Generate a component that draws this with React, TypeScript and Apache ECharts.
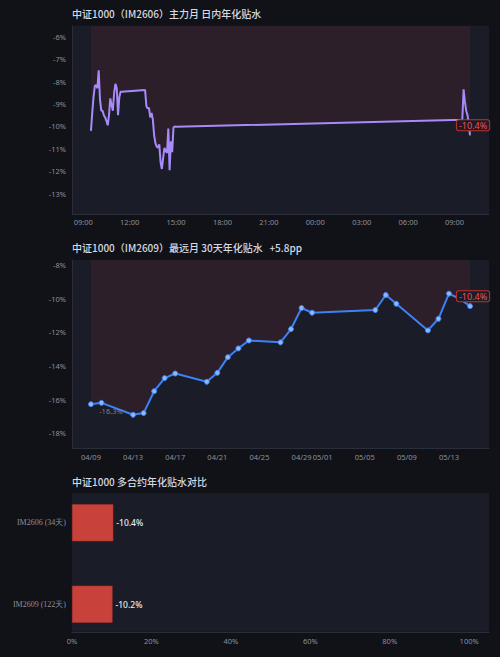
import { useEffect, useRef } from 'react';
import * as echarts from 'echarts';

// ---------- data ----------
const title1 = '中证1000（IM2606）主力月 日内年化贴水';
const title2 = '中证1000（IM2609）最远月 30天年化贴水   +5.8pp';
const title3 = '中证1000 多合约年化贴水对比';

// intraday (day 1 = previous session, day 2 = current session)
const day1Times = [
  '09:30', '09:35', '09:40', '09:45', '09:50', '09:55', '10:00', '10:05', '10:10', '10:15',
  '10:20', '10:25', '10:30', '10:35', '10:40', '10:45', '10:50', '10:55', '11:00', '11:05',
  '11:10', '11:15', '11:20', '11:25', '11:30',
  '13:00', '13:05', '13:10', '13:15', '13:20', '13:25', '13:30', '13:35', '13:40', '13:45',
  '13:50', '13:55', '14:00', '14:05', '14:10', '14:15', '14:20', '14:25', '14:30', '14:35',
  '14:40', '14:45', '14:50', '14:55', '15:00',
];
const day1Values = [
  -10.2, -9.4, -8.7, -8.2, -8.15, -8.3, -7.5, -8.8, -9.3, -9.3,
  -9.5, -9.6, -9.75, -9.95, -9.5, -8.75, -9.05, -9.3, -8.5, -8.1,
  -8.3, -9.5, -8.7, -8.45, -8.45,
  -8.38, -9.1, -9.2, -9.17, -9.6, -9.4, -9.7, -10.4, -10.75, -10.9,
  -10.95, -10.8, -11.6, -11.9, -11.4, -10.96, -11.1, -11.18, -10.1, -11.95,
  -10.66, -11.15, -10.05, -10.0, -10.02,
];
const day2Times = ['09:30', '09:35', '09:40', '09:45', '09:50', '09:55', '10:00'];
const day2Values = [-9.7, -8.35, -8.9, -9.3, -9.5, -9.9, -10.4];

// daily 30-day annualised discount
const dailyDates = [
  '2026-04-09', '2026-04-10', '2026-04-13', '2026-04-14', '2026-04-15', '2026-04-16',
  '2026-04-17', '2026-04-20', '2026-04-21', '2026-04-22', '2026-04-23', '2026-04-24',
  '2026-04-27', '2026-04-28', '2026-04-29', '2026-04-30', '2026-05-06', '2026-05-07',
  '2026-05-08', '2026-05-11', '2026-05-12', '2026-05-13', '2026-05-14', '2026-05-15',
];
const dailyValues = [
  -16.26, -16.18, -16.89, -16.79, -15.49, -14.71,
  -14.44, -14.93, -14.4, -13.47, -12.95, -12.48,
  -12.59, -11.8, -10.55, -10.83, -10.67, -9.78,
  -10.3, -11.88, -11.19, -9.7, -10.0, -10.44,
];

// contracts comparison
const contracts = ['IM2606 (34天)', 'IM2609 (122天)'];
const contractValues = [-10.4, -10.2];

// ---------- styles ----------
const PAGE_BG = '#111218';
const GRID_BG = '#1a1c27';
const AXIS_LINE = '#2a2d3a';
const LABEL = '#8b909c';
const TITLE = '#d6d9e0';
const RED_FILL = 'rgba(239,68,68,0.13)';
const FONT = "'Noto Sans', 'Noto Sans CJK SC', sans-serif";
const TITLE_FONT = "'Noto Sans CJK SC', 'Noto Sans', sans-serif";

const toHours = (t: string, day: number) => {
  const [h, m] = t.split(':').map(Number);
  return h + m / 60 + day * 24;
};
const pad = (n: number) => (n < 10 ? '0' + n : '' + n);

const intraday: [number, number][] = [
  ...day1Times.map((t, i) => [toHours(t, 0), day1Values[i]] as [number, number]),
  ...day2Times.map((t, i) => [toHours(t, 1), day2Values[i]] as [number, number]),
];
const iFirst = intraday[0][0];
const iLast = intraday[intraday.length - 1];
const iSpan = iLast[0] - iFirst;

const daily: [number, number][] = dailyDates.map((d, i) => {
  const [y, mo, da] = d.split('-').map(Number);
  return [new Date(y, mo - 1, da).getTime(), dailyValues[i]];
});
const dFirst = daily[0];
const dLast = daily[daily.length - 1];
const dSpan = dLast[0] - dFirst[0];

const redBoxLabel = {
  show: true,
  position: 'top',
  distance: 5,
  offset: [3, 0],
  color: '#f05252',
  fontSize: 9,
  fontFamily: FONT,
  backgroundColor: '#1d1b25',
  borderColor: '#c0302e',
  borderWidth: 1,
  borderRadius: 2,
  padding: [1, 2, 0, 2],
  formatter: (p: any) => p.value.toFixed(1) + '%',
};

const yPct = (v: number) => Math.round(v) + '%';

const titleStyle = { color: TITLE, fontSize: 10, fontWeight: 500, fontFamily: TITLE_FONT };

export default function App() {
  const ref = useRef<HTMLDivElement>(null);
  useEffect(() => {
    document.body.style.margin = '0';
    document.body.style.background = PAGE_BG;
    const chart = echarts.init(ref.current!, null, { renderer: 'svg' });
    const option: any = {
      animation: false,
      backgroundColor: PAGE_BG,
      textStyle: { fontFamily: FONT },
      title: [
        { text: title1, left: 72, top: 8, padding: 0, textStyle: titleStyle },
        { text: title2, left: 72, top: 242, padding: 0, textStyle: titleStyle },
        { text: title3, left: 72, top: 476, padding: 0, textStyle: titleStyle },
      ],
      graphic: [
        {
          type: 'rect',
          z: -10,
          shape: { x: 72, y: 493.3, width: 417, height: 138.4 },
          style: { fill: GRID_BG },
        },
      ],
      grid: [
        { left: 72, right: 11, top: 25.7, height: 188.6, show: true, backgroundColor: GRID_BG, borderWidth: 0 },
        { left: 72, right: 11, top: 260, height: 188.3, show: true, backgroundColor: GRID_BG, borderWidth: 0 },
        { left: 72, right: 11, top: 482, height: 163 },
      ],
      xAxis: [
        {
          type: 'value',
          gridIndex: 0,
          min: iFirst - iSpan * 0.05,
          max: iLast[0] + iSpan * 0.05,
          splitNumber: 9,
          axisLine: { show: true, lineStyle: { color: AXIS_LINE } },
          axisTick: { show: false },
          splitLine: { show: false },
          axisLabel: {
            color: LABEL,
            fontSize: 7.5,
            margin: 4,
            showMinLabel: false,
            showMaxLabel: false,
            formatter: (v: number) => pad(((Math.round(v) % 24) + 24) % 24) + ':00',
          },
        },
        {
          type: 'time',
          gridIndex: 1,
          min: dFirst[0] - dSpan * 0.05,
          max: dLast[0] + dSpan * 0.05,
          splitNumber: 10,
          axisLine: { show: true, lineStyle: { color: AXIS_LINE } },
          axisTick: { show: false },
          splitLine: { show: false },
          axisLabel: {
            color: LABEL,
            fontSize: 7.5,
            margin: 5,
            showMinLabel: false,
            showMaxLabel: false,
            formatter: (v: number) => {
              const d = new Date(v);
              return pad(d.getMonth() + 1) + '/' + pad(d.getDate());
            },
          },
        },
        {
          type: 'value',
          gridIndex: 2,
          min: 0,
          max: 105,
          interval: 20,
          offset: -13,
          axisLine: { show: true, lineStyle: { color: AXIS_LINE } },
          axisTick: { show: false },
          splitLine: { show: false },
          axisLabel: {
            color: LABEL,
            fontSize: 7.5,
            margin: 5,
            showMaxLabel: false,
            formatter: (v: number) => v + '%',
          },
        },
      ],
      yAxis: [
        {
          type: 'value',
          gridIndex: 0,
          min: -13.92,
          max: -5.51,
          splitNumber: 8,
          axisLine: { show: true, lineStyle: { color: AXIS_LINE } },
          axisTick: { show: false },
          splitLine: { show: false },
          axisLabel: { color: LABEL, fontSize: 7.5, margin: 6, showMinLabel: false, showMaxLabel: false, formatter: yPct },
        },
        {
          type: 'value',
          gridIndex: 1,
          min: -18.88,
          max: -7.7,
          splitNumber: 5,
          axisLine: { show: true, lineStyle: { color: AXIS_LINE } },
          axisTick: { show: false },
          splitLine: { show: false },
          axisLabel: { color: LABEL, fontSize: 7.5, margin: 6, showMinLabel: false, showMaxLabel: false, formatter: yPct },
        },
        {
          type: 'category',
          gridIndex: 2,
          inverse: true,
          data: contracts,
          axisLine: { show: false },
          axisTick: { show: false },
          splitLine: { show: false },
          axisLabel: { color: LABEL, fontSize: 8, margin: 6, fontFamily: "'Liberation Serif', serif" },
        },
      ],
      series: [
        {
          type: 'line',
          xAxisIndex: 0,
          yAxisIndex: 0,
          data: intraday,
          showSymbol: false,
          symbol: 'none',
          lineStyle: { color: '#a78bfa', width: 2 },
          areaStyle: { origin: 'end', color: RED_FILL },
          markPoint: {
            symbol: 'circle',
            symbolSize: 0,
            silent: true,
            data: [{ coord: iLast, value: iLast[1], label: redBoxLabel }],
          },
        },
        {
          type: 'line',
          xAxisIndex: 1,
          yAxisIndex: 1,
          data: daily,
          symbol: 'circle',
          symbolSize: 5,
          showSymbol: true,
          lineStyle: { color: '#3b82f6', width: 2 },
          itemStyle: { color: '#8fb8f8', borderColor: '#3b82f6', borderWidth: 1 },
          areaStyle: { origin: 'end', color: RED_FILL },
          markPoint: {
            symbol: 'circle',
            symbolSize: 0,
            silent: true,
            data: [
              {
                coord: dFirst,
                value: dFirst[1],
                label: {
                  show: true,
                  position: 'bottom',
                  distance: 3,
                  offset: [20, 0],
                  color: '#7d818c',
                  fontSize: 7.5,
                  fontFamily: FONT,
                  formatter: (p: any) => p.value.toFixed(1) + '%',
                },
              },
              { coord: dLast, value: dLast[1], label: redBoxLabel },
            ],
          },
        },
        {
          type: 'bar',
          xAxisIndex: 2,
          yAxisIndex: 2,
          data: contractValues.map((v) => Math.abs(v)),
          barWidth: 37,
          itemStyle: { color: '#c8413a', borderColor: '#a8342f', borderWidth: 0.5 },
          label: {
            show: true,
            position: 'right',
            distance: 3,
            color: '#e8eaef',
            fontSize: 8.5,
            fontWeight: 500,
            fontFamily: FONT,
            formatter: (p: any) => contractValues[p.dataIndex].toFixed(1) + '%',
          },
        },
      ],
    };
    chart.setOption(option);
    return () => chart.dispose();
  }, []);
  return <div ref={ref} style={{ width: 500, height: 657, background: PAGE_BG }} />;
}
